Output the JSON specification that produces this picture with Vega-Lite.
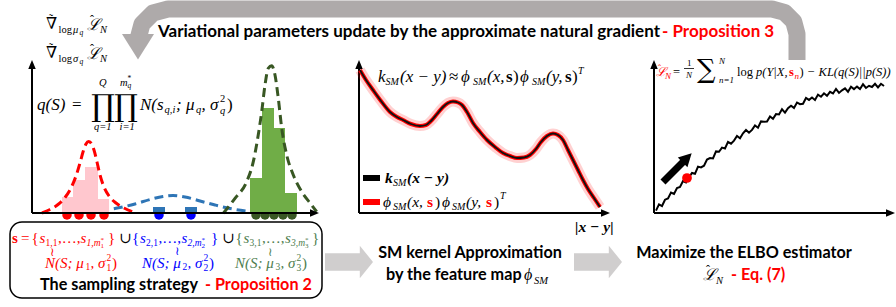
{
"$schema": "https://vega.github.io/schema/vega-lite/v6.json",
"width": 896, "height": 307, "padding": 0, "autosize": "none",
"background": "white",
"config": {"view": {"stroke": null}},
"resolve": {"scale": {"color": "independent"}},
"datasets": {
"band": [{"x":797,"y":60,"o":1},{"x":797,"y":34,"o":2},{"x":793.7,"y":21.5,"o":3},{"x":784.5,"y":12.4,"o":4},{"x":772,"y":9,"o":5},{"x":168,"y":9,"o":6},{"x":153,"y":13,"o":7},{"x":142,"y":24,"o":8},{"x":138,"y":39,"o":9},{"x":138,"y":44,"o":10}],
"bandHead": [{"x":138,"y":46}],
"blocks": [{"x":349,"y":262},{"x":598,"y":262}],
"axes": [{"x":32,"y":213,"x2":32,"y2":65},{"x":32,"y":213,"x2":314,"y2":213},{"x":359,"y":213,"x2":359,"y2":65},{"x":359,"y":213,"x2":605,"y2":213},{"x":654,"y":213,"x2":654,"y2":65},{"x":654,"y":213,"x2":890,"y2":213}],
"upTips": [{"x":32,"y":65},{"x":359,"y":65},{"x":654,"y":65}],
"rightTips": [{"x":314,"y":213},{"x":605,"y":213},{"x":890,"y":213}],
"dots": [{"x":67,"q":"1"},{"x":79,"q":"1"},{"x":91,"q":"1"},{"x":104,"q":"1"},{"x":159,"q":"2"},{"x":191,"q":"2"},{"x":256,"q":"3"},{"x":265,"q":"3"},{"x":274,"q":"3"},{"x":283,"q":"3"},{"x":292,"q":"3"}],
"hist": [{"x":62,"x2":73,"y":197,"q":"1"},{"x":73,"x2":85,"y":180,"q":"1"},{"x":85,"x2":98,"y":167,"q":"1"},{"x":98,"x2":109,"y":199,"q":"1"},{"x":153,"x2":165,"y":207,"q":"2"},{"x":185,"x2":197,"y":207,"q":"2"},{"x":250,"x2":262,"y":178,"q":"3"},{"x":262,"x2":274,"y":108,"q":"3"},{"x":274,"x2":285,"y":128,"q":"3"},{"x":285,"x2":297,"y":193,"q":"3"}],
"dens": [
{"x":42,"y":213,"q":"1"},{"x":50,"y":209.5,"q":"1"},{"x":58,"y":204.5,"q":"1"},{"x":65,"y":197.5,"q":"1"},{"x":71,"y":188,"q":"1"},{"x":76,"y":176,"q":"1"},{"x":80,"y":163,"q":"1"},{"x":83,"y":152,"q":"1"},{"x":86,"y":144,"q":"1"},{"x":88.5,"y":141.5,"q":"1"},{"x":91,"y":143,"q":"1"},{"x":94,"y":150,"q":"1"},{"x":97,"y":162,"q":"1"},{"x":100,"y":175,"q":"1"},{"x":104,"y":187,"q":"1"},{"x":109,"y":196,"q":"1"},{"x":116,"y":203,"q":"1"},{"x":124,"y":208,"q":"1"},{"x":133,"y":212,"q":"1"},
{"x":100,"y":211,"q":"2"},{"x":109,"y":209.5,"q":"2"},{"x":120,"y":207.5,"q":"2"},{"x":135,"y":204,"q":"2"},{"x":150,"y":199.5,"q":"2"},{"x":163,"y":196.5,"q":"2"},{"x":173,"y":195.5,"q":"2"},{"x":185,"y":197,"q":"2"},{"x":200,"y":201,"q":"2"},{"x":215,"y":205,"q":"2"},{"x":230,"y":208.5,"q":"2"},{"x":250,"y":211.5,"q":"2"},
{"x":223.3,"y":213.3,"q":"3"},{"x":235,"y":198.3,"q":"3"},{"x":246.7,"y":181.7,"q":"3"},{"x":253.3,"y":161.7,"q":"3"},{"x":257.7,"y":138.3,"q":"3"},{"x":261.7,"y":111.7,"q":"3"},{"x":265,"y":85,"q":"3"},{"x":268.3,"y":68.3,"q":"3"},{"x":271.7,"y":65.7,"q":"3"},{"x":275,"y":75,"q":"3"},{"x":278.3,"y":98.3,"q":"3"},{"x":281.7,"y":128,"q":"3"},{"x":286.7,"y":155,"q":"3"},{"x":293.3,"y":175,"q":"3"},{"x":301.7,"y":191.7,"q":"3"},{"x":310,"y":203,"q":"3"},{"x":316.7,"y":211.7,"q":"3"}],
"kern": [{"x":360,"y":70},{"x":366,"y":80},{"x":373,"y":90},{"x":381,"y":101},{"x":390,"y":112},{"x":397,"y":117},{"x":403,"y":120},{"x":411,"y":124},{"x":420,"y":126},{"x":426,"y":125},{"x":431,"y":121},{"x":437,"y":114},{"x":443,"y":107},{"x":448,"y":103},{"x":453,"y":101.5},{"x":458,"y":102.5},{"x":462,"y":105},{"x":467,"y":112},{"x":473,"y":123},{"x":480,"y":132},{"x":487,"y":140},{"x":495,"y":147},{"x":503,"y":153},{"x":510,"y":156},{"x":517,"y":158},{"x":524,"y":157.5},{"x":530,"y":155},{"x":536,"y":149},{"x":541,"y":142},{"x":547,"y":136},{"x":553,"y":133.5},{"x":558,"y":135},{"x":563,"y":140},{"x":568,"y":150},{"x":573,"y":160},{"x":578,"y":170},{"x":583,"y":180},{"x":588,"y":189},{"x":594,"y":198},{"x":600,"y":207}],
"kleg": [{"x":363,"x2":380,"y":175,"y2":181,"q":"k"},{"x":363,"x2":380,"y":199,"y2":205,"q":"r"}],
"elbo": [{"x":656,"y":210.6},{"x":659,"y":204.3},{"x":662,"y":206},{"x":665,"y":199.7},{"x":668,"y":198.4},{"x":671,"y":192.5},{"x":674,"y":194},{"x":677,"y":188},{"x":680,"y":187},{"x":683,"y":181},{"x":686,"y":182.5},{"x":689,"y":177.2},{"x":692,"y":173},{"x":695,"y":173.8},{"x":698,"y":166.6},{"x":701,"y":167.4},{"x":704,"y":165.7},{"x":707,"y":159.5},{"x":710,"y":158},{"x":713,"y":158.4},{"x":716,"y":151.4},{"x":719,"y":151.8},{"x":722,"y":147.6},{"x":725,"y":148.5},{"x":728,"y":141.9},{"x":731,"y":143.7},{"x":734,"y":140.6},{"x":737,"y":136},{"x":740,"y":138.2},{"x":743,"y":133.3},{"x":746,"y":130},{"x":749,"y":132.7},{"x":752,"y":129.9},{"x":755,"y":125.5},{"x":758,"y":127.7},{"x":761,"y":121.4},{"x":764,"y":121.8},{"x":767,"y":121.6},{"x":770,"y":116.4},{"x":773,"y":118.8},{"x":776,"y":114.1},{"x":779,"y":114.4},{"x":782,"y":109.3},{"x":785,"y":112.6},{"x":788,"y":108.1},{"x":791,"y":105.7},{"x":794,"y":107.9},{"x":797,"y":102.5},{"x":800,"y":104.2},{"x":803,"y":103.8},{"x":806,"y":98},{"x":809,"y":99.9},{"x":812,"y":97.5},{"x":815,"y":100},{"x":818,"y":94.6},{"x":821,"y":96.7},{"x":824,"y":93.3},{"x":827,"y":95.8},{"x":830,"y":91.9},{"x":833,"y":93.5},{"x":836,"y":88.9},{"x":839,"y":92.9},{"x":842,"y":90.3},{"x":845,"y":88.3},{"x":848,"y":91.7},{"x":851,"y":86.7},{"x":854,"y":89.1},{"x":857,"y":86.6},{"x":860,"y":89},{"x":863,"y":84.3},{"x":866,"y":88},{"x":869,"y":85.8},{"x":872,"y":87},{"x":875,"y":83.8},{"x":878,"y":87.5},{"x":881,"y":83.8},{"x":884,"y":86}],
"bigdot": [{"x":687,"y":178}],
"barrow": [{"x":663,"y":182,"x2":684,"y2":161}],
"barrowHead": [{"x":686,"y":159}],
"box": [{"x":10,"x2":322,"y":222,"y2":298}],
"frac": [{"x":684,"x2":694,"y":68.5,"y2":68.5}],
"txt": [
{"x":158,"y":32,"t":"Variational parameters update by the approximate natural gradient","k":"head","z":"H","hl":"0"},
{"x":662,"y":32,"t":"- Proposition 3","k":"head","z":"H","hl":"1"},
{"x":40,"y":285,"t":"The sampling strategy","k":"head","z":"H2","hl":"0"},
{"x":205,"y":285,"t":"- Proposition 2","k":"head","z":"H2","hl":"1"},
{"x":386,"y":275,"t":"by the feature map","k":"head","z":"H2","hl":"0"},
{"x":731,"y":275,"t":"- Eq. (7)","k":"head","z":"H2","hl":"1"},
{"x":470,"y":253,"t":"SM kernel Approximation","k":"headc","z":"H2","hl":"0"},
{"x":744,"y":253,"t":"Maximize the ELBO estimator","k":"headc","z":"H2","hl":"0"},
{"x":524,"y":275,"t":"ϕ","k":"var","z":"F","hl":"0"},
{"x":534,"y":281,"t":"SM","k":"var","z":"f","hl":"0"},
{"x":703,"y":275,"t":"ℒ","k":"var","z":"F","hl":"0"},
{"x":706,"y":269.5,"t":"ˆ","k":"op","z":"hat","hl":"0"},
{"x":716,"y":281,"t":"N","k":"var","z":"f","hl":"0"},

{"x":46,"y":24,"t":"∇","k":"var","z":"F","hl":"0"},
{"x":49,"y":19,"t":"˜","k":"op","z":"hat","hl":"0"},
{"x":58.5,"y":30,"t":"log","k":"op","z":"f","hl":"0"},
{"x":73,"y":30,"t":"μ","k":"var","z":"f","hl":"0"},
{"x":79.5,"y":33,"t":"q","k":"var","z":"ff","hl":"0"},
{"x":87,"y":25,"t":"ℒ","k":"var","z":"F","hl":"0"},
{"x":90,"y":19.5,"t":"ˆ","k":"op","z":"hat","hl":"0"},
{"x":100,"y":30,"t":"N","k":"var","z":"f","hl":"0"},
{"x":46,"y":53,"t":"∇","k":"var","z":"F","hl":"0"},
{"x":49,"y":48,"t":"˜","k":"op","z":"hat","hl":"0"},
{"x":58.5,"y":59,"t":"log","k":"op","z":"f","hl":"0"},
{"x":73,"y":59,"t":"σ","k":"var","z":"f","hl":"0"},
{"x":79.5,"y":62,"t":"q","k":"var","z":"ff","hl":"0"},
{"x":87,"y":54,"t":"ℒ","k":"var","z":"F","hl":"0"},
{"x":90,"y":48.5,"t":"ˆ","k":"op","z":"hat","hl":"0"},
{"x":100,"y":59,"t":"N","k":"var","z":"f","hl":"0"},

{"x":37,"y":105,"t":"q(S)","k":"var","z":"Q","hl":"0"},
{"x":72,"y":105,"t":"=","k":"op","z":"Q","hl":"0"},
{"x":91,"y":116,"t":"∏","k":"big","z":"P","hl":"0"},
{"x":114,"y":116,"t":"∏","k":"big","z":"P","hl":"0"},
{"x":99,"y":83,"t":"Q","k":"var","z":"f","hl":"0"},
{"x":120,"y":83,"t":"m","k":"var","z":"f","hl":"0"},
{"x":127.5,"y":86,"t":"q","k":"var","z":"ff","hl":"0"},
{"x":127.5,"y":79,"t":"*","k":"op","z":"ff","hl":"0"},
{"x":94,"y":127,"t":"q=1","k":"var","z":"f","hl":"0"},
{"x":119.5,"y":127,"t":"i=1","k":"var","z":"f","hl":"0"},
{"x":140,"y":105,"t":"N(s","k":"var","z":"Q","hl":"0"},
{"x":164.5,"y":110,"t":"q,i","k":"var","z":"f","hl":"0"},
{"x":176,"y":105,"t":"; μ","k":"var","z":"Q","hl":"0"},
{"x":196,"y":110,"t":"q","k":"var","z":"f","hl":"0"},
{"x":201.5,"y":105,"t":", σ","k":"var","z":"Q","hl":"0"},
{"x":220,"y":99,"t":"2","k":"op","z":"f","hl":"0"},
{"x":220,"y":111,"t":"q","k":"var","z":"f","hl":"0"},
{"x":227,"y":105,"t":")","k":"op","z":"Q","hl":"0"},

{"x":378,"y":77,"t":"k","k":"var","z":"Fm","hl":"0"},
{"x":385.5,"y":82,"t":"SM","k":"var","z":"fm","hl":"0"},
{"x":400,"y":77,"t":"(x − y)","k":"var","z":"Fm","hl":"0"},
{"x":449,"y":77,"t":"≈","k":"op","z":"Fm","hl":"0"},
{"x":461,"y":77,"t":"ϕ","k":"var","z":"Fm","hl":"0"},
{"x":473,"y":82,"t":"SM","k":"var","z":"fm","hl":"0"},
{"x":487,"y":77,"t":"(x,","k":"var","z":"Fm","hl":"0"},
{"x":506,"y":77,"t":"s","k":"vec","z":"Fm","hl":"0"},
{"x":513,"y":77,"t":")","k":"op","z":"Fm","hl":"0"},
{"x":520,"y":77,"t":"ϕ","k":"var","z":"Fm","hl":"0"},
{"x":532,"y":82,"t":"SM","k":"var","z":"fm","hl":"0"},
{"x":546,"y":77,"t":"(y,","k":"var","z":"Fm","hl":"0"},
{"x":565,"y":77,"t":"s","k":"vec","z":"Fm","hl":"0"},
{"x":572,"y":77,"t":")","k":"op","z":"Fm","hl":"0"},
{"x":578,"y":71,"t":"T","k":"var","z":"fm","hl":"0"},

{"x":385,"y":178,"t":"k","k":"bvar","z":"Lg","hl":"0"},
{"x":393,"y":183,"t":"SM","k":"var","z":"lg","hl":"0"},
{"x":407,"y":178,"t":"(x − y)","k":"bvar","z":"Lg","hl":"0"},
{"x":383,"y":202,"t":"ϕ","k":"var","z":"Lg","hl":"0"},
{"x":393,"y":207,"t":"SM","k":"var","z":"lg","hl":"0"},
{"x":407,"y":202,"t":"(x,","k":"var","z":"Lg","hl":"0"},
{"x":427,"y":202,"t":"s","k":"vec","z":"Lg","hl":"1"},
{"x":435,"y":202,"t":")","k":"op","z":"Lg","hl":"0"},
{"x":442,"y":202,"t":"ϕ","k":"var","z":"Lg","hl":"0"},
{"x":452,"y":207,"t":"SM","k":"var","z":"lg","hl":"0"},
{"x":466,"y":202,"t":"(y,","k":"var","z":"Lg","hl":"0"},
{"x":486,"y":202,"t":"s","k":"vec","z":"Lg","hl":"1"},
{"x":494,"y":202,"t":")","k":"op","z":"Lg","hl":"0"},
{"x":500,"y":196,"t":"T","k":"var","z":"lg","hl":"0"},
{"x":575,"y":227,"t":"|x − y|","k":"bvar","z":"Lg","hl":"0"},

{"x":656,"y":72,"t":"ℒ","k":"var","z":"R","hl":"1"},
{"x":658,"y":68,"t":"ˆ","k":"op","z":"r","hl":"1"},
{"x":665,"y":76,"t":"N","k":"var","z":"r","hl":"1"},
{"x":673,"y":72,"t":"=","k":"op","z":"R","hl":"0"},
{"x":687,"y":63,"t":"1","k":"op","z":"r","hl":"0"},
{"x":686,"y":75,"t":"N","k":"var","z":"r","hl":"0"},
{"x":697,"y":78,"t":"∑","k":"big","z":"S","hl":"0"},
{"x":719,"y":61,"t":"N","k":"var","z":"r","hl":"0"},
{"x":719,"y":80,"t":"n=1","k":"var","z":"r","hl":"0"},
{"x":737,"y":72,"t":"log","k":"op","z":"R","hl":"0"},
{"x":756,"y":72,"t":"p(Y|X,","k":"var","z":"R","hl":"0"},
{"x":789,"y":72,"t":"s","k":"vec","z":"R","hl":"1"},
{"x":794.5,"y":76,"t":"n","k":"var","z":"r","hl":"1"},
{"x":799.5,"y":72,"t":")","k":"op","z":"R","hl":"0"},
{"x":807,"y":72,"t":"− KL(q(S)||p(S))","k":"var","z":"R","hl":"0"},

{"x":12,"y":238,"t":"s","k":"vec","z":"B","hl":"1"},
{"x":21,"y":238,"t":"=","k":"op","z":"B","hl":"1"},
{"x":31.5,"y":238,"t":"{","k":"op","z":"B","hl":"1"},
{"x":39.5,"y":238,"t":"s","k":"var","z":"B","hl":"1"},
{"x":45.5,"y":243,"t":"1,1","k":"op","z":"b","hl":"1"},
{"x":58,"y":238,"t":",…,","k":"op","z":"B","hl":"1"},
{"x":80.5,"y":238,"t":"s","k":"var","z":"B","hl":"1"},
{"x":86.5,"y":243,"t":"1,m","k":"var","z":"b","hl":"1"},
{"x":100.5,"y":246,"t":"1","k":"op","z":"bb","hl":"1"},
{"x":100.5,"y":240,"t":"*","k":"op","z":"bb","hl":"1"},
{"x":108,"y":238,"t":"}","k":"op","z":"B","hl":"1"},
{"x":119,"y":238,"t":"∪","k":"op","z":"B","hl":"0"},
{"x":132,"y":238,"t":"{","k":"op","z":"B","hl":"2"},
{"x":140,"y":238,"t":"s","k":"var","z":"B","hl":"2"},
{"x":146,"y":243,"t":"2,1","k":"op","z":"b","hl":"2"},
{"x":158.5,"y":238,"t":",…,","k":"op","z":"B","hl":"2"},
{"x":181.5,"y":238,"t":"s","k":"var","z":"B","hl":"2"},
{"x":187.5,"y":243,"t":"2,m","k":"var","z":"b","hl":"2"},
{"x":201.5,"y":246,"t":"2","k":"op","z":"bb","hl":"2"},
{"x":201.5,"y":240,"t":"*","k":"op","z":"bb","hl":"2"},
{"x":211,"y":238,"t":"}","k":"op","z":"B","hl":"2"},
{"x":222,"y":238,"t":"∪","k":"op","z":"B","hl":"0"},
{"x":235.5,"y":238,"t":"{","k":"op","z":"B","hl":"3"},
{"x":243.5,"y":238,"t":"s","k":"var","z":"B","hl":"3"},
{"x":249.5,"y":243,"t":"3,1","k":"op","z":"b","hl":"3"},
{"x":262,"y":238,"t":",…,","k":"op","z":"B","hl":"3"},
{"x":285,"y":238,"t":"s","k":"var","z":"B","hl":"3"},
{"x":291,"y":243,"t":"3,m","k":"var","z":"b","hl":"3"},
{"x":305,"y":246,"t":"3","k":"op","z":"bb","hl":"3"},
{"x":305,"y":240,"t":"*","k":"op","z":"bb","hl":"3"},
{"x":312,"y":238,"t":"}","k":"op","z":"B","hl":"3"},
{"x":50,"y":252,"t":"≀","k":"op","z":"hat","hl":"1"},
{"x":175,"y":251,"t":"≀","k":"op","z":"hat","hl":"2"},
{"x":268,"y":252,"t":"≀","k":"op","z":"hat","hl":"3"},
{"x":45,"y":263,"t":"N(S; μ","k":"var","z":"B","hl":"1"},
{"x":85.5,"y":267,"t":"1","k":"op","z":"b","hl":"1"},
{"x":90.5,"y":263,"t":", σ","k":"var","z":"B","hl":"1"},
{"x":106.5,"y":258,"t":"2","k":"op","z":"b","hl":"1"},
{"x":106.5,"y":268,"t":"1","k":"op","z":"b","hl":"1"},
{"x":112,"y":263,"t":")","k":"op","z":"B","hl":"1"},
{"x":142,"y":263,"t":"N(S; μ","k":"var","z":"B","hl":"2"},
{"x":182.5,"y":267,"t":"2","k":"op","z":"b","hl":"2"},
{"x":187.5,"y":263,"t":", σ","k":"var","z":"B","hl":"2"},
{"x":203.5,"y":258,"t":"2","k":"op","z":"b","hl":"2"},
{"x":203.5,"y":268,"t":"2","k":"op","z":"b","hl":"2"},
{"x":209,"y":263,"t":")","k":"op","z":"B","hl":"2"},
{"x":235,"y":263,"t":"N(S; μ","k":"var","z":"B","hl":"3"},
{"x":275.5,"y":267,"t":"3","k":"op","z":"b","hl":"3"},
{"x":280.5,"y":263,"t":", σ","k":"var","z":"B","hl":"3"},
{"x":296.5,"y":258,"t":"2","k":"op","z":"b","hl":"3"},
{"x":296.5,"y":268,"t":"3","k":"op","z":"b","hl":"3"},
{"x":302,"y":263,"t":")","k":"op","z":"B","hl":"3"}
]
},
"layer": [
{"data": {"name": "band"}, "mark": {"type": "line", "strokeWidth": 17, "color": "#aeaaaa", "strokeCap": "butt", "strokeJoin": "round"},
 "encoding": {"x": {"field": "x", "type": "quantitative", "scale": {"domain": [0, 896], "nice": false, "zero": false}, "axis": null},
  "y": {"field": "y", "type": "quantitative", "scale": {"domain": [0, 307], "reverse": true, "nice": false, "zero": false}, "axis": null},
  "order": {"field": "o", "type": "quantitative"}}},
{"data": {"name": "bandHead"}, "mark": {"type": "point", "filled": true, "opacity": 1, "color": "#aeaaaa", "strokeWidth": 0, "shape": "M-1,-0.75L1,-0.75L0,0.85Z", "size": 1024},
 "encoding": {"x": {"field": "x", "type": "quantitative"}, "y": {"field": "y", "type": "quantitative"}}},
{"data": {"name": "blocks"}, "mark": {"type": "point", "filled": true, "opacity": 1, "color": "#d0cece", "strokeWidth": 0, "shape": "M-1,-0.36L0.45,-0.36L0.45,-0.68L1,0L0.45,0.68L0.45,0.36L-1,0.36Z", "size": 2304},
 "encoding": {"x": {"field": "x", "type": "quantitative"}, "y": {"field": "y", "type": "quantitative"}}},
{"data": {"name": "dots"}, "mark": {"type": "point", "filled": true, "opacity": 1, "shape": "circle", "size": 90, "strokeWidth": 0},
 "encoding": {"x": {"field": "x", "type": "quantitative"}, "y": {"datum": 215, "type": "quantitative"},
  "color": {"field": "q", "type": "nominal", "scale": {"domain": ["1", "2", "3"], "range": ["#ff0000", "#0000ff", "#385723"]}, "legend": null}}},
{"data": {"name": "dens"}, "transform": [{"filter": "datum.q == '2'"}], "mark": {"type": "line", "strokeWidth": 3, "strokeDash": [9, 5], "interpolate": "monotone", "color": "#2e75b6"},
 "encoding": {"x": {"field": "x", "type": "quantitative"}, "y": {"field": "y", "type": "quantitative"}}},
{"data": {"name": "hist"}, "mark": {"type": "rect"},
 "encoding": {"x": {"field": "x", "type": "quantitative"}, "x2": {"field": "x2"}, "y": {"field": "y", "type": "quantitative"}, "y2": {"datum": 213},
  "color": {"field": "q", "type": "nominal", "scale": {"domain": ["1", "2", "3"], "range": ["#ffc7ce", "#2e75b6", "#70ad47"]}, "legend": null}}},
{"data": {"name": "dens"}, "transform": [{"filter": "datum.q != '2'"}], "mark": {"type": "line", "strokeWidth": 3, "strokeDash": [9, 5], "interpolate": "monotone"},
 "encoding": {"x": {"field": "x", "type": "quantitative"}, "y": {"field": "y", "type": "quantitative"},
  "color": {"field": "q", "type": "nominal", "scale": {"domain": ["1", "3"], "range": ["#ff0000", "#385723"]}, "legend": null}}},
{"data": {"name": "axes"}, "mark": {"type": "rule", "strokeWidth": 2, "color": "#000000"},
 "encoding": {"x": {"field": "x", "type": "quantitative"}, "y": {"field": "y", "type": "quantitative"}, "x2": {"field": "x2"}, "y2": {"field": "y2"}}},
{"data": {"name": "upTips"}, "mark": {"type": "point", "filled": true, "opacity": 1, "color": "#000000", "strokeWidth": 0, "shape": "M0,-1L0.75,0.8L-0.75,0.8Z", "size": 100},
 "encoding": {"x": {"field": "x", "type": "quantitative"}, "y": {"field": "y", "type": "quantitative"}}},
{"data": {"name": "rightTips"}, "mark": {"type": "point", "filled": true, "opacity": 1, "color": "#000000", "strokeWidth": 0, "shape": "M1,0L-0.8,0.75L-0.8,-0.75Z", "size": 100},
 "encoding": {"x": {"field": "x", "type": "quantitative"}, "y": {"field": "y", "type": "quantitative"}}},
{"data": {"name": "kern"}, "mark": {"type": "line", "strokeWidth": 10, "color": "#ff0000", "opacity": 0.18, "interpolate": "monotone"},
 "encoding": {"x": {"field": "x", "type": "quantitative"}, "y": {"field": "y", "type": "quantitative"}}},
{"data": {"name": "kern"}, "mark": {"type": "line", "strokeWidth": 4, "color": "#ff0000", "interpolate": "monotone"},
 "encoding": {"x": {"field": "x", "type": "quantitative"}, "y": {"field": "y", "type": "quantitative"}}},
{"data": {"name": "kern"}, "mark": {"type": "line", "strokeWidth": 1.8, "color": "#111111", "interpolate": "monotone"},
 "encoding": {"x": {"field": "x", "type": "quantitative"}, "y": {"field": "y", "type": "quantitative"}}},
{"data": {"name": "kleg"}, "mark": {"type": "rect"},
 "encoding": {"x": {"field": "x", "type": "quantitative"}, "x2": {"field": "x2"}, "y": {"field": "y", "type": "quantitative"}, "y2": {"field": "y2"},
  "color": {"field": "q", "type": "nominal", "scale": {"domain": ["k", "r"], "range": ["#000000", "#ff0000"]}, "legend": null}}},
{"data": {"name": "elbo"}, "mark": {"type": "line", "strokeWidth": 2, "color": "#000000"},
 "encoding": {"x": {"field": "x", "type": "quantitative"}, "y": {"field": "y", "type": "quantitative"}}},
{"data": {"name": "bigdot"}, "mark": {"type": "point", "filled": true, "opacity": 1, "color": "#ff0000", "strokeWidth": 0, "shape": "circle", "size": 95},
 "encoding": {"x": {"field": "x", "type": "quantitative"}, "y": {"field": "y", "type": "quantitative"}}},
{"data": {"name": "barrow"}, "mark": {"type": "rule", "strokeWidth": 7, "color": "#000000"},
 "encoding": {"x": {"field": "x", "type": "quantitative"}, "y": {"field": "y", "type": "quantitative"}, "x2": {"field": "x2"}, "y2": {"field": "y2"}}},
{"data": {"name": "barrowHead"}, "mark": {"type": "point", "filled": true, "opacity": 1, "color": "#000000", "strokeWidth": 0, "shape": "M1,0L-0.6,0.85L-0.6,-0.85Z", "size": 256, "angle": -45},
 "encoding": {"x": {"field": "x", "type": "quantitative"}, "y": {"field": "y", "type": "quantitative"}}},
{"data": {"name": "box"}, "mark": {"type": "rect", "filled": false, "stroke": "#000000", "strokeWidth": 1.5, "cornerRadius": 12},
 "encoding": {"x": {"field": "x", "type": "quantitative"}, "x2": {"field": "x2"}, "y": {"field": "y", "type": "quantitative"}, "y2": {"field": "y2"}}},
{"data": {"name": "frac"}, "mark": {"type": "rule", "strokeWidth": 0.8, "color": "#000000"},
 "encoding": {"x": {"field": "x", "type": "quantitative"}, "x2": {"field": "x2"}, "y": {"field": "y", "type": "quantitative"}, "y2": {"field": "y2"}}},
{"data": {"name": "txt"}, "transform": [{"filter": "datum.k == 'head'"}], "mark": {"type": "text", "font": "Lato", "fontWeight": "bold", "align": "left", "baseline": "middle"},
 "encoding": {"x": {"field": "x", "type": "quantitative"}, "y": {"field": "y", "type": "quantitative"}, "text": {"field": "t"},
  "size": {"field": "z", "type": "ordinal", "scale": {"type": "ordinal", "domain": ["H","H2","F","f","ff","hat","Q","P","Fm","fm","Lg","lg","R","r","S","B","b","bb"], "range": [17,16.2,16,10.5,7.5,12,17,30,17,10,15.5,10,12.5,9,26,15,9.5,7]}, "legend": null},
  "color": {"field": "hl", "type": "nominal", "scale": {"domain": ["0","1","2","3"], "range": ["#000000","#ff0000","#0000ff","#4e7d4e"]}, "legend": null}}},
{"data": {"name": "txt"}, "transform": [{"filter": "datum.k == 'headc'"}], "mark": {"type": "text", "font": "Lato", "fontWeight": "bold", "align": "center", "baseline": "middle"},
 "encoding": {"x": {"field": "x", "type": "quantitative"}, "y": {"field": "y", "type": "quantitative"}, "text": {"field": "t"},
  "size": {"field": "z", "type": "ordinal", "scale": {"type": "ordinal", "domain": ["H","H2","F","f","ff","hat","Q","P","Fm","fm","Lg","lg","R","r","S","B","b","bb"], "range": [17,16.2,16,10.5,7.5,12,17,30,17,10,15.5,10,12.5,9,26,15,9.5,7]}, "legend": null},
  "color": {"field": "hl", "type": "nominal", "scale": {"domain": ["0","1","2","3"], "range": ["#000000","#ff0000","#0000ff","#4e7d4e"]}, "legend": null}}},
{"data": {"name": "txt"}, "transform": [{"filter": "datum.k == 'var'"}], "mark": {"type": "text", "font": "Liberation Serif, DejaVu Serif, serif", "fontStyle": "italic", "align": "left", "baseline": "middle"},
 "encoding": {"x": {"field": "x", "type": "quantitative"}, "y": {"field": "y", "type": "quantitative"}, "text": {"field": "t"},
  "size": {"field": "z", "type": "ordinal", "scale": {"type": "ordinal", "domain": ["H","H2","F","f","ff","hat","Q","P","Fm","fm","Lg","lg","R","r","S","B","b","bb"], "range": [17,16.2,16,10.5,7.5,12,17,30,17,10,15.5,10,12.5,9,26,15,9.5,7]}, "legend": null},
  "color": {"field": "hl", "type": "nominal", "scale": {"domain": ["0","1","2","3"], "range": ["#000000","#ff0000","#0000ff","#4e7d4e"]}, "legend": null}}},
{"data": {"name": "txt"}, "transform": [{"filter": "datum.k == 'op'"}], "mark": {"type": "text", "font": "Liberation Serif, DejaVu Serif, serif", "align": "left", "baseline": "middle"},
 "encoding": {"x": {"field": "x", "type": "quantitative"}, "y": {"field": "y", "type": "quantitative"}, "text": {"field": "t"},
  "size": {"field": "z", "type": "ordinal", "scale": {"type": "ordinal", "domain": ["H","H2","F","f","ff","hat","Q","P","Fm","fm","Lg","lg","R","r","S","B","b","bb"], "range": [17,16.2,16,10.5,7.5,12,17,30,17,10,15.5,10,12.5,9,26,15,9.5,7]}, "legend": null},
  "color": {"field": "hl", "type": "nominal", "scale": {"domain": ["0","1","2","3"], "range": ["#000000","#ff0000","#0000ff","#4e7d4e"]}, "legend": null}}},
{"data": {"name": "txt"}, "transform": [{"filter": "datum.k == 'vec'"}], "mark": {"type": "text", "font": "Liberation Serif, DejaVu Serif, serif", "fontWeight": "bold", "align": "left", "baseline": "middle"},
 "encoding": {"x": {"field": "x", "type": "quantitative"}, "y": {"field": "y", "type": "quantitative"}, "text": {"field": "t"},
  "size": {"field": "z", "type": "ordinal", "scale": {"type": "ordinal", "domain": ["H","H2","F","f","ff","hat","Q","P","Fm","fm","Lg","lg","R","r","S","B","b","bb"], "range": [17,16.2,16,10.5,7.5,12,17,30,17,10,15.5,10,12.5,9,26,15,9.5,7]}, "legend": null},
  "color": {"field": "hl", "type": "nominal", "scale": {"domain": ["0","1","2","3"], "range": ["#000000","#ff0000","#0000ff","#4e7d4e"]}, "legend": null}}},
{"data": {"name": "txt"}, "transform": [{"filter": "datum.k == 'bvar'"}], "mark": {"type": "text", "font": "Liberation Serif, DejaVu Serif, serif", "fontWeight": "bold", "fontStyle": "italic", "align": "left", "baseline": "middle"},
 "encoding": {"x": {"field": "x", "type": "quantitative"}, "y": {"field": "y", "type": "quantitative"}, "text": {"field": "t"},
  "size": {"field": "z", "type": "ordinal", "scale": {"type": "ordinal", "domain": ["H","H2","F","f","ff","hat","Q","P","Fm","fm","Lg","lg","R","r","S","B","b","bb"], "range": [17,16.2,16,10.5,7.5,12,17,30,17,10,15.5,10,12.5,9,26,15,9.5,7]}, "legend": null},
  "color": {"field": "hl", "type": "nominal", "scale": {"domain": ["0","1","2","3"], "range": ["#000000","#ff0000","#0000ff","#4e7d4e"]}, "legend": null}}},
{"data": {"name": "txt"}, "transform": [{"filter": "datum.k == 'big'"}], "mark": {"type": "text", "font": "DejaVu Serif", "align": "left", "baseline": "alphabetic"},
 "encoding": {"x": {"field": "x", "type": "quantitative"}, "y": {"field": "y", "type": "quantitative"}, "text": {"field": "t"},
  "size": {"field": "z", "type": "ordinal", "scale": {"type": "ordinal", "domain": ["H","H2","F","f","ff","hat","Q","P","Fm","fm","Lg","lg","R","r","S","B","b","bb"], "range": [17,16.2,16,10.5,7.5,12,17,30,17,10,15.5,10,12.5,9,26,15,9.5,7]}, "legend": null},
  "color": {"field": "hl", "type": "nominal", "scale": {"domain": ["0","1","2","3"], "range": ["#000000","#ff0000","#0000ff","#4e7d4e"]}, "legend": null}}}
]
}
